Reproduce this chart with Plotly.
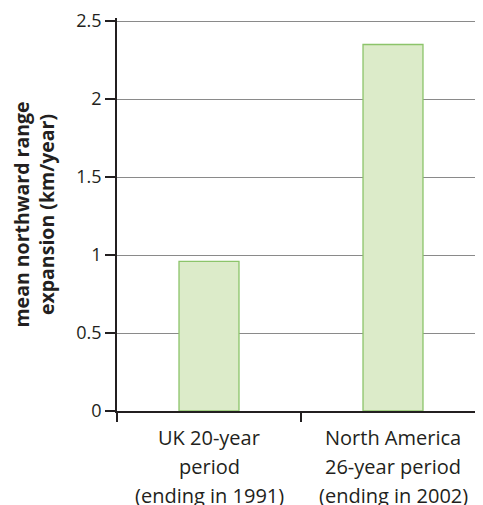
import plotly.graph_objects as go

categories = ["UK", "North America"]
label_lines = [
    ["UK 20-year", "period", "(ending in 1991)"],
    ["North America", "26-year period", "(ending in 2002)"],
]
values = [0.96, 2.35]
y_ticks = [0, 0.5, 1, 1.5, 2, 2.5]
y_ticklabels = ["0", "0.5", "1", "1.5", "2", "2.5"]
y_title = "mean northward range<br>expansion (km/year)"

FONT = "Open Sans, sans-serif"
TXT = "#231f20"

fig = go.Figure()
fig.add_trace(go.Bar(
    x=list(range(len(categories))),
    y=values,
    marker=dict(color="#dcebc9", line=dict(color="#8cc46a", width=1.3)),
    width=0.326,
    hoverinfo="skip",
))

annotations = []
for i, lines in enumerate(label_lines):
    for j, line in enumerate(lines):
        annotations.append(dict(
            x=i, xref="x", y=0, yref="paper",
            text=line, showarrow=False,
            xanchor="center", yanchor="middle",
            yshift=-26 - 29 * j,
            font=dict(family=FONT, size=20, color=TXT),
        ))

fig.update_layout(
    width=475, height=497,
    margin=dict(l=109, r=0, t=8, b=94),
    paper_bgcolor="white", plot_bgcolor="white",
    showlegend=False,
    annotations=annotations,
    xaxis=dict(
        range=[-0.5, -0.5 + 366 / 184],
        tickmode="array", tickvals=[-0.5, 0.5, 1.5], ticktext=["", "", ""],
        ticks="outside", ticklen=9, tickwidth=1.5, tickcolor="#231f20",
        showline=True, linecolor="#231f20", linewidth=1.5,
        showgrid=False, zeroline=False, fixedrange=True,
    ),
    yaxis=dict(
        range=[0, 2.52],
        tickmode="array", tickvals=y_ticks, ticktext=y_ticklabels,
        ticks="outside", ticklen=10, tickwidth=1.5, tickcolor="#231f20",
        ticklabeloverflow="allow",
        showline=True, linecolor="#231f20", linewidth=1.5,
        showgrid=True, gridcolor="#8a8a8a", gridwidth=1,
        zeroline=False,
        tickfont=dict(family=FONT, size=18, color=TXT),
        title=dict(text=y_title, standoff=22,
                   font=dict(family=FONT, size=19.5, color=TXT, weight="bold")),
    ),
)

fig.write_html("out.html")
